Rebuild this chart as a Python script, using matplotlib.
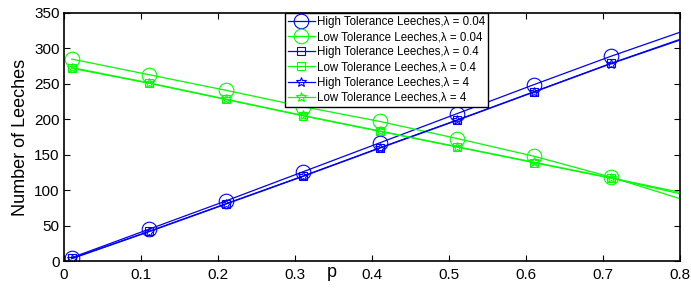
import matplotlib
matplotlib.use("Agg")
import matplotlib.pyplot as plt

plt.rcParams['font.family'] = ['Liberation Sans', 'DejaVu Sans']

# x values (markers at the first 8 points, line continues to 0.8)
p = [0.01, 0.11, 0.21, 0.31, 0.41, 0.51, 0.61, 0.71, 0.80]

high_004 = [5, 45, 85, 126, 167, 208, 249, 289, 323]
low_004 = [285, 263, 241, 218, 197, 173, 148, 118.5, 88]
high_04 = [4, 42, 81, 120, 160, 199, 239, 279, 313]
low_04 = [272, 251, 228, 205, 183, 161, 139, 117, 95]
high_4 = [3.5, 41.5, 80.5, 119.5, 159.5, 198.5, 238.5, 278.5, 312]
low_4 = [273, 251.5, 228.5, 205.5, 183.5, 161.5, 139.5, 117.5, 97]

labels = [
    "High Tolerance Leeches,\u03bb = 0.04",
    "Low Tolerance Leeches,\u03bb = 0.04",
    "High Tolerance Leeches,\u03bb = 0.4",
    "Low Tolerance Leeches,\u03bb = 0.4",
    "High Tolerance Leeches,\u03bb = 4",
    "Low Tolerance Leeches,\u03bb = 4",
]
series = [high_004, low_004, high_04, low_04, high_4, low_4]
colors = ['#0000ff', '#00ff00', '#0000ff', '#00ff00', '#0000ff', '#00ff00']
markers = ['o', 'o', 's', 's', '*', '*']
msizes = [10.5, 10.5, 6, 6, 7, 7]

xticks = [0, 0.1, 0.2, 0.3, 0.4, 0.5, 0.6, 0.7, 0.8]
xticklabels = ['0', '0.1', '0.2', '0.3', '0.4', '0.5', '0.6', '0.7', '0.8']
yticks = [0, 50, 100, 150, 200, 250, 300, 350]

fig = plt.figure(figsize=(6.91, 2.88), dpi=100)
ax = fig.add_axes([0.0926, 0.093, 0.892, 0.862])

for ys, c, m, ms, lab in zip(series, colors, markers, msizes, labels):
    ax.plot(p, ys, color=c, marker=m, markersize=ms, markerfacecolor='none',
            markeredgecolor=c, markeredgewidth=0.8, linewidth=0.9,
            markevery=list(range(8)), label=lab)

ax.set_xlim(0, 0.8)
ax.set_ylim(0, 350)
ax.set_xticks(xticks)
ax.set_xticklabels(xticklabels)
ax.set_yticks(yticks)
ax.tick_params(direction='in', top=True, right=True, labelsize=11, length=4,
               width=0.8, pad=3)
ax.tick_params(axis='x', pad=5)
for s in ax.spines.values():
    s.set_linewidth(1.2)

ax.set_ylabel("Number of Leeches", fontsize=13, labelpad=4)
ax.text(0.435, -0.045, "p", transform=ax.transAxes, fontsize=13,
        ha='center', va='center')

leg = ax.legend(loc='upper left', bbox_to_anchor=(0.359, 1.0), fontsize=8.3,
                frameon=True, fancybox=False, framealpha=1, edgecolor='black',
                handlelength=2.3, labelspacing=0.28, borderpad=0.25,
                handletextpad=0.2, borderaxespad=0.0)
leg.get_frame().set_linewidth(1.0)

fig.savefig("out.png", dpi=100)
